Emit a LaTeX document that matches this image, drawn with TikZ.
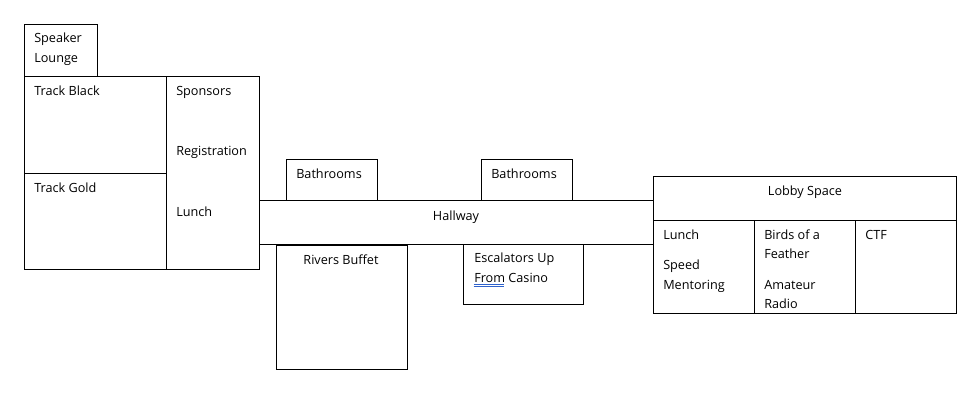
\documentclass[tikz,border=0pt]{standalone}
\usepackage{fontspec}
\setmainfont{Open Sans}
\definecolor{spell}{HTML}{2F62CC}
\tikzset{
  room/.style={draw=black,line width=0.75pt,fill=white,inner sep=0pt,outer sep=0pt},
  lbl/.style={font=\fontsize{9.5pt}{14.6pt}\selectfont,inner sep=0pt,anchor=north west,align=left,text=black},
  clbl/.style={font=\fontsize{9.5pt}{14.6pt}\selectfont,inner sep=0pt,anchor=north,align=center,text=black}
}
\newcommand{\R}[5]{\node[room,anchor=north west,minimum width=#3*0.75pt,minimum height=#4*0.75pt] (#5) at (#1*0.75pt+0.375pt,-#2*0.75pt-0.375pt) {};}
\newcommand{\T}[4]{\node[lbl] (#4) at (#1*0.75pt,-#2*0.75pt) {#3};}
\newcommand{\C}[4]{\node[clbl] (#4) at (#1*0.75pt,-#2*0.75pt) {#3};}
\begin{document}
\begin{tikzpicture}[x=1pt,y=1pt]
\useasboundingbox (0,0) rectangle (964*0.75pt,-404*0.75pt);
\fill[white] (0,0) rectangle (964*0.75pt,-404*0.75pt);
\R{24}{24}{73}{52}{sl}
\R{24}{76}{142}{97}{tb}
\R{24}{173}{142}{96}{tg}
\R{166}{76}{93}{193}{sp}
\R{286}{159}{91}{41}{b1}
\R{481}{159}{91}{41}{b2}
\R{259}{200}{394}{44}{hw}
\R{276}{245}{131}{124}{rb}
\R{463}{244}{120}{60}{es}
\R{653}{176}{303}{44}{ls}
\R{653}{220}{101}{93}{c1}
\R{754}{220}{101}{93}{c2}
\R{855}{220}{101}{93}{c3}
\T{34}{32.8}{Speaker\\Lounge}{tsl}
\T{34}{85.8}{Track Black}{ttb}
\T{34}{182.8}{Track Gold}{ttg}
\T{176}{85.8}{Sponsors}{t1}
\T{176}{145.8}{Registration}{t2}
\T{176}{206.8}{Lunch}{t3}
\T{296}{168.8}{Bathrooms}{t4}
\T{491}{168.8}{Bathrooms}{t5}
\C{456}{210.8}{Hallway}{t6}
\C{341}{254.8}{Rivers Buffet}{t7}
\T{474}{252.8}{Escalators Up\\From Casino}{t8}
\C{805}{185.8}{Lobby Space}{t9}
\T{663}{229.8}{Lunch}{t10}
\T{663}{259.8}{Speed\\Mentoring}{t11}
\T{764}{229.3}{Birds of a\\Feather}{t12}
\T{764}{279.8}{Amateur\\Radio}{t13}
\T{865}{229.8}{CTF}{t14}
\coordinate (ua) at (473.5*0.75pt,-284.5*0.75pt);
\coordinate (ub) at (504*0.75pt,-284.5*0.75pt);
\coordinate (uc) at (473.5*0.75pt,-286.5*0.75pt);
\coordinate (ud) at (504*0.75pt,-286.5*0.75pt);
\draw[spell,line width=0.35pt] (ua) -- (ub);
\draw[spell,line width=0.35pt] (uc) -- (ud);
\end{tikzpicture}
\end{document}
